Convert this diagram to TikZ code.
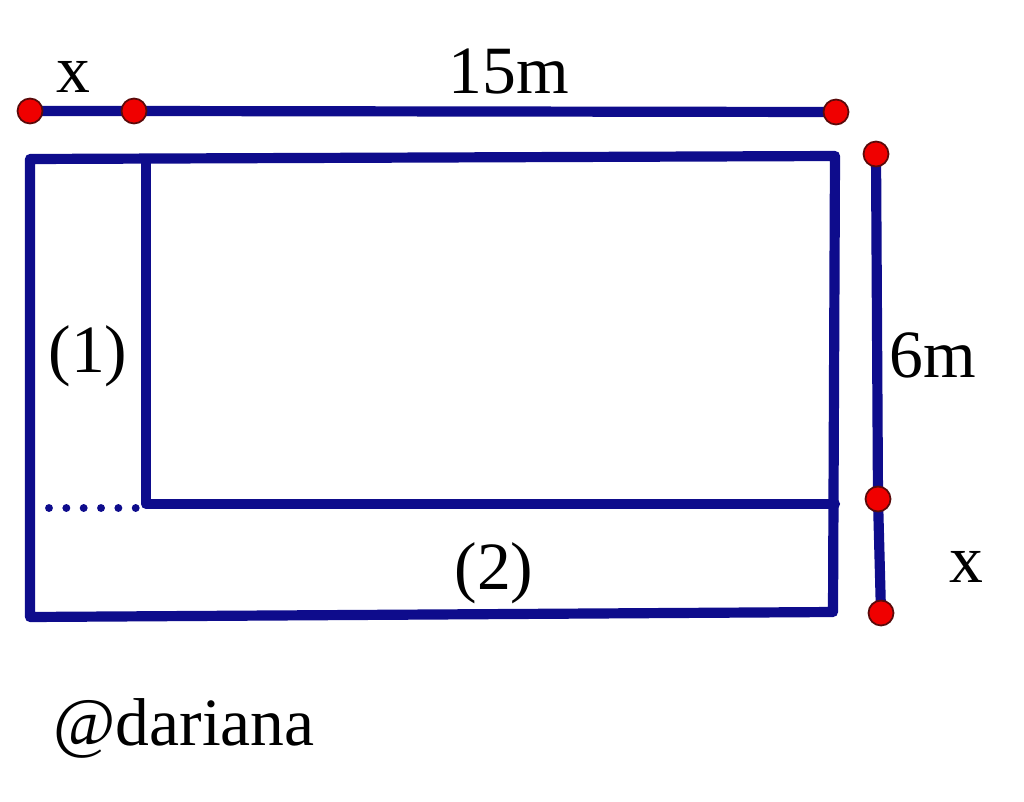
\documentclass[tikz,border=0pt]{standalone}
\usepackage{fontspec}
\setmainfont{Liberation Serif}
\definecolor{lineblue}{RGB}{14,12,140}
\definecolor{dotred}{RGB}{240,0,0}
\definecolor{dotrim}{RGB}{90,10,10}
\begin{document}
\begin{tikzpicture}[x=0.02cm,y=-0.02cm,
  edge/.style={draw=lineblue,line width=5.8pt,line join=round,line cap=round},
  dotline/.style={draw=lineblue,line width=4.5pt,line cap=round,dash pattern=on 0pt off 9.87pt},
  pt/.style={circle,fill=dotred,draw=dotrim,line width=1pt,minimum size=0.5cm,inner sep=0pt},
  lbl/.style={font=\fontsize{38.5}{40}\selectfont,inner sep=0pt,anchor=base}]
\useasboundingbox (0,0) rectangle (1024,801);
% outer rectangle corners
\coordinate (A) at (30,159);
\coordinate (B) at (835,156);
\coordinate (C) at (833,612);
\coordinate (D) at (30,617);
% inner lines
\coordinate (I1) at (146,160);
\coordinate (I2) at (146,504);
\coordinate (I3) at (835,504);
\coordinate (P1) at (49,508);
\coordinate (P2) at (136,508);
\draw[edge] (A) -- (B) -- (C) -- (D) -- cycle;
\draw[edge] (I1) -- (I2) -- (I3);
\draw[dotline] (P1) -- (P2);
% dimension points
\coordinate (t1) at (30,111);
\coordinate (t2) at (134,111);
\coordinate (t3) at (836,112);
\coordinate (r1) at (876,154);
\coordinate (r2) at (878,499);
\coordinate (r3) at (881,613);
\draw[edge] (t1) -- (t2) -- (t3);
\draw[edge] (r1) -- (r2) -- (r3);
\node[pt] (d1) at (t1) {};
\node[pt] (d2) at (t2) {};
\node[pt] (d3) at (t3) {};
\node[pt] (d4) at (r1) {};
\node[pt] (d5) at (r2) {};
\node[pt] (d6) at (r3) {};
% labels
\node[lbl] (lx) at (73,92) {x};
\node[lbl] (l15) at (509,93) {15m};
\node[lbl] (l6) at (933,377) {6m};
\node[lbl] (lx2) at (966,582) {x};
\node[lbl] (l1) at (88,372) {(1)};
\node[lbl] (l2) at (494,589) {(2)};
\node[lbl,anchor=base west] (sig) at (53,745) {@dariana};
\end{tikzpicture}
\end{document}
